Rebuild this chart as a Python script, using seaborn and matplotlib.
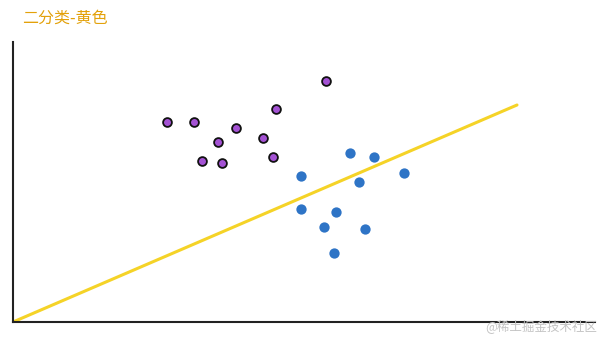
import matplotlib
matplotlib.use("Agg")
import matplotlib.pyplot as plt
import seaborn as sns
import pandas as pd

sns.set_theme(style="white")
plt.rcParams['font.family'] = ['Noto Sans CJK SC', 'DejaVu Sans']

# data (pixel-like units measured from origin)
purple_x = [154, 181, 223, 205, 250, 263, 313, 189, 209, 260]
purple_y = [200, 200, 194, 180, 184, 213, 241, 161, 159, 165]
blue_x = [337, 361, 288, 346, 391, 288, 323, 311, 352, 321]
blue_y = [169, 165, 146, 140, 149, 113, 110, 95, 93, 69]
line_x = [0, 504]
line_y = [0, 217]

fig = plt.figure(figsize=(6.02, 3.37), dpi=100)
ax = fig.add_axes([13/602, 15/337, 582/602, 280/337])

dfp = pd.DataFrame({"x": purple_x, "y": purple_y})
dfb = pd.DataFrame({"x": blue_x, "y": blue_y})
dfl = pd.DataFrame({"x": line_x, "y": line_y})

sns.lineplot(data=dfl, x="x", y="y", ax=ax, color="#f5d327", linewidth=2.2, zorder=1)
sns.scatterplot(data=dfp, x="x", y="y", ax=ax, color="#a452d4", edgecolor="#111111",
                linewidth=1.3, s=40, zorder=3)
sns.scatterplot(data=dfb, x="x", y="y", ax=ax, color="#2e74c6", edgecolor="#2e74c6",
                linewidth=0, s=55, zorder=3)

ax.set_xlim(0, 582)
ax.set_ylim(0, 280)
ax.set_xticks([])
ax.set_yticks([])
ax.set_xlabel("")
ax.set_ylabel("")
for s in ["top", "right"]:
    ax.spines[s].set_visible(False)
for s in ["left", "bottom"]:
    ax.spines[s].set_color("#222222")
    ax.spines[s].set_linewidth(1.5)

fig.text(22/602, 1 - 18/337, "二分类-黄色", color="#e3a10a", fontsize=11.5,
         ha="left", va="center")
fig.text(597/602, 1 - 326/337, "@稀土掘金技术社区", color="#c4c4c4", fontsize=9,
         ha="right", va="center")

fig.savefig("out.png", dpi=100)
